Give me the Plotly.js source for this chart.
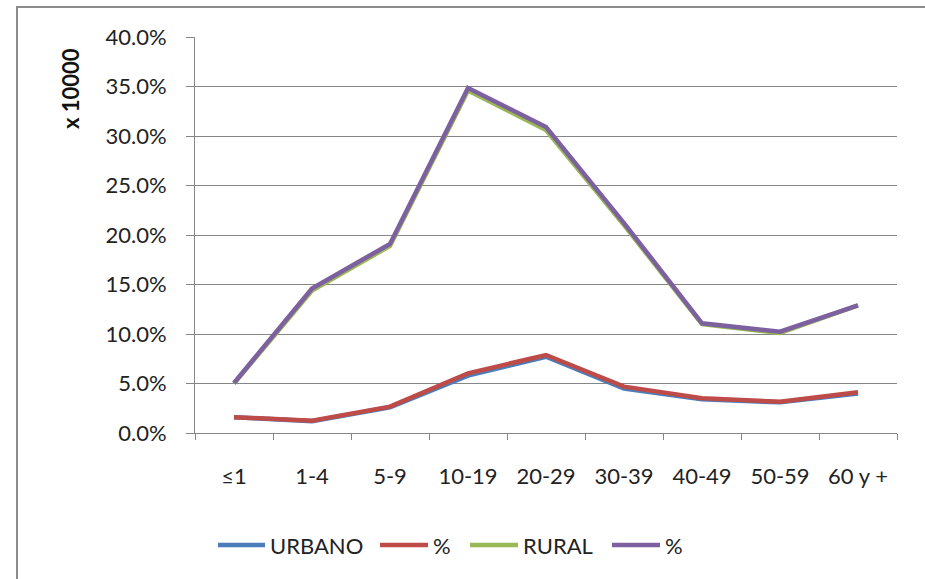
<!DOCTYPE html>
<html>
<head>
<meta charset="utf-8">
<script src="https://cdn.plot.ly/plotly-3.0.1.min.js"></script>
<style>
  html, body { margin: 0; padding: 0; background: #ffffff; }
  #chart { width: 925px; height: 579px; }
</style>
</head>
<body>
<div id="chart"></div>
<script>
const categories = ["≤1", "1-4", "5-9", "10-19", "20-29", "30-39", "40-49", "50-59", "60 y +"];
const urbano      = [0.016, 0.012, 0.026, 0.058, 0.077, 0.045, 0.034, 0.031, 0.040];
const urbanoPct   = [0.016, 0.0124, 0.0266, 0.0603, 0.0788, 0.0468, 0.035, 0.0316, 0.0411];
const rural       = [0.050, 0.144, 0.189, 0.346, 0.306, 0.210, 0.110, 0.101, 0.129];
const ruralPct    = [0.0505, 0.146, 0.191, 0.3485, 0.309, 0.212, 0.1108, 0.1023, 0.129];
const seriesNames = ["URBANO", "%", "RURAL", "%"];
const seriesColors = ["#4A7EBB", "#BE4B48", "#98B954", "#7D60A0"];

const font = "Lato, 'Open Sans', 'DejaVu Sans', sans-serif";
const allSeries = [urbano, urbanoPct, rural, ruralPct];

const traces = allSeries.map((vals, i) => ({
  type: "scatter",
  mode: "lines",
  x: categories,
  y: vals,
  name: seriesNames[i],
  line: { color: seriesColors[i], width: 4.5 },
  showlegend: false
}));

// plot area in pixels (for placing the custom legend / border in paper coords)
const L = 195, T = 37, W = 702, H = 396;
const px = x => (x - L) / W;
const py = y => (T + H - y) / H;

// custom legend: line sample + label for each series
const legendLineX = [[218, 265], [380, 428], [470, 518], [612, 660]];
const legendY = 545;
const shapes = [{
  type: "rect",
  xref: "paper", yref: "paper",
  x0: px(17), x1: 1.2,
  y0: py(7), y1: -0.6,
  line: { color: "#8c8c8c", width: 2 },
  fillcolor: "rgba(0,0,0,0)",
  layer: "below"
}];
const annotations = [{
  text: "<b>x 10000</b>",
  xref: "paper", yref: "paper",
  x: px(71), y: py(89),
  xanchor: "center", yanchor: "middle",
  textangle: -90,
  showarrow: false,
  font: { family: font, size: 22, color: "#111111" }
}];
seriesNames.forEach((name, i) => {
  const [a, b] = legendLineX[i];
  shapes.push({
    type: "line", xref: "paper", yref: "paper",
    x0: px(a), x1: px(b), y0: py(legendY), y1: py(legendY),
    line: { color: seriesColors[i], width: 4.5 }
  });
  annotations.push({
    text: name, xref: "paper", yref: "paper",
    x: px(b + 3), y: py(legendY),
    xanchor: "left", yanchor: "middle",
    showarrow: false,
    font: { family: font, size: 22, color: "#222222" }
  });
});

const layout = {
  width: 925,
  height: 579,
  paper_bgcolor: "#ffffff",
  plot_bgcolor: "#ffffff",
  margin: { l: 195, r: 28, t: 37, b: 146 },
  font: { family: font, size: 22, color: "#222222" },
  xaxis: {
    type: "category",
    range: [-0.5, 8.5],
    showgrid: false,
    showline: true,
    linecolor: "#868686",
    linewidth: 1,
    ticks: "outside",
    tickson: "boundaries",
    ticklen: 6,
    tickcolor: "#868686",
    ticklabelstandoff: 24,
    tickfont: { family: font, size: 22, color: "#222222" },
    fixedrange: true,
    zeroline: false
  },
  yaxis: {
    range: [0, 0.4],
    dtick: 0.05,
    tickformat: ".1%",
    showgrid: true,
    gridcolor: "#868686",
    gridwidth: 1,
    showline: true,
    linecolor: "#868686",
    linewidth: 1,
    ticks: "outside",
    ticklen: 8,
    tickcolor: "#868686",
    ticklabelstandoff: 15,
    tickfont: { family: font, size: 22, color: "#222222" },
    zeroline: false,
    fixedrange: true
  },
  showlegend: false,
  annotations: annotations,
  shapes: shapes
};

Plotly.newPlot("chart", traces, layout, { displayModeBar: false, staticPlot: true });
</script>
</body>
</html>
